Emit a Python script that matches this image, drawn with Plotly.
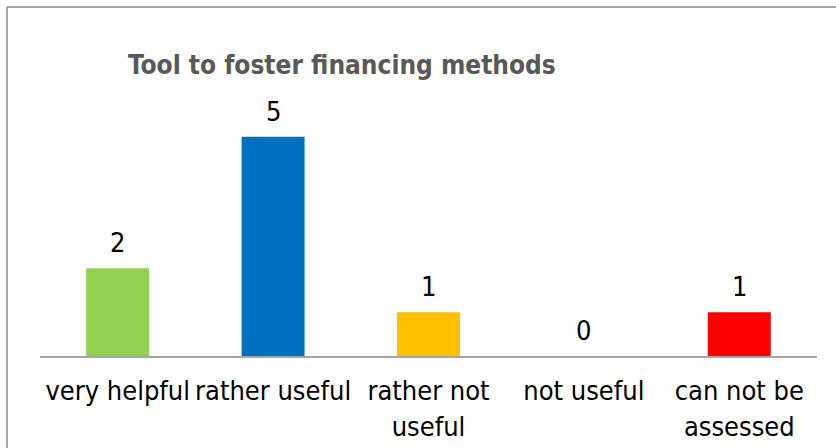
import plotly.graph_objects as go

categories = ["very helpful", "rather useful", "rather not<br>useful", "not useful", "can not be<br>assessed"]
values = [2, 5, 1, 0, 1]
colors = ["#92D050", "#0070C0", "#FFC000", "#FFFFFF", "#FF0000"]
title_text = "Tool to foster financing methods"

FONT = "DejaVu Sans Condensed"

fig = go.Figure()
fig.add_trace(go.Bar(
    x=categories, y=values, marker=dict(color=colors, line=dict(width=0)),
    hoverinfo="skip", showlegend=False,
))

for c, v in zip(categories, values):
    fig.add_annotation(x=c, y=v, text=str(v), showarrow=False, yanchor="bottom",
                       yshift=8, font=dict(family=FONT, size=27, color="#000000"))

# frame: left and top edges only (chart frame continues beyond the picture)
PW, PH, PL, PB = 777, 263, 40, 356
xl = (7 - PL) / PW
yt = (PB - 7) / PH
xr = (900 - PL) / PW
yb = (PB - 500) / PH

fig.update_layout(
    width=836, height=448,
    margin=dict(l=40, r=19, t=93, b=92, autoexpand=False),
    paper_bgcolor="white", plot_bgcolor="white",
    bargap=0.595,
    title=dict(text="<b>" + title_text + "</b>", x=128/836, xanchor="left",
               xref="container", yref="container", y=1-65/448, yanchor="middle",
               font=dict(family=FONT, size=26, color="#595959")),
    font=dict(family=FONT, size=27, color="#000000"),
    xaxis=dict(showline=True, linecolor="#A6A6A6", linewidth=2, showgrid=False, automargin=False,
               ticks="", ticklabelstandoff=10, tickfont=dict(family=FONT, size=27, color="#000000")),
    yaxis=dict(range=[0, 6], visible=False, showgrid=False, zeroline=False, automargin=False),
    shapes=[
        dict(type="line", xref="paper", yref="paper", x0=xl, x1=xl, y0=yb, y1=yt,
             line=dict(color="#A6A6A6", width=2), layer="below"),
        dict(type="line", xref="paper", yref="paper", x0=xl, x1=xr, y0=yt, y1=yt,
             line=dict(color="#A6A6A6", width=2), layer="below"),
    ],
)

fig.write_html("out.html", config={"displayModeBar": False},
               post_script="document.body.style.margin='0';document.body.style.overflow='hidden';")
